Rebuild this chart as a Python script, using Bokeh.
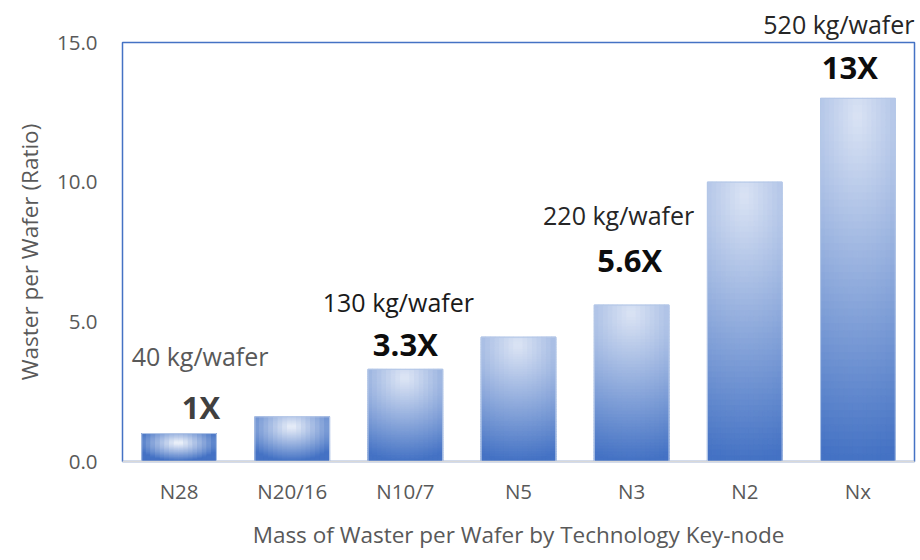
import math
from bokeh.plotting import figure
from bokeh.models import (FactorRange, Range1d, ColumnDataSource, Label, Title, FixedTicker,
                          NumeralTickFormatter)
from bokeh.embed import file_html
from bokeh.resources import INLINE

# ---- data ----
categories = ["N28", "N20/16", "N10/7", "N5", "N3", "N2", "Nx"]
ratios = [1.0, 1.6, 3.3, 4.45, 5.6, 10.0, 13.0]
y_ticks = [0, 5, 10, 15]

ann_categories = ["N28", "N10/7", "N3", "Nx"]
ann_mass = ["40 kg/wafer", "130 kg/wafer", "220 kg/wafer", "520 kg/wafer"]
ann_ratio = ["1X", "3.3X", "5.6X", "13X"]

# ---- annotation layout (text centre heights in axis units, pixel shifts) ----
mass_y = [3.76, 5.71, 8.84]          # the last mass label sits above the frame (a title)
ratio_y = [1.95, 4.22, 7.21, 14.12]
mass_dx = [21, -7, -13]
ratio_dx = [22, 0, -2, -8]
mass_col = ["#595959", "#1a1a1a", "#262626", "#262626"]
ratio_col = ["#404040", "#0d0d0d", "#0d0d0d", "#0d0d0d"]

FONT = "Open Sans"
GRAY = "#595959"

p = figure(width=916, height=556, x_range=FactorRange(*categories, range_padding=0),
           y_range=Range1d(0, 15), output_backend="svg", toolbar_location=None,
           min_border_left=122, min_border_right=2, min_border_top=42, min_border_bottom=95)

# gradient-filled bars built from small cells
HW = 0.33
NC, NR = 16, 50
dark = (68, 114, 196)
cells = dict(left=[], right=[], top=[], bottom=[], color=[])
for c, v in zip(categories, ratios):
    k = math.exp(-(v - 1) / 1.5)
    light = tuple(lt + (ls - lt) * k for lt, ls in zip((218, 227, 244), (244, 247, 252)))
    a = max(0.25, min(0.9, 1.0 / v ** 0.7))
    cy = 0.05 + 0.3 * math.exp(-(v - 1) / 1.2)
    for i in range(NC):
        x0 = -HW + 2 * HW * i / NC
        x1 = -HW + 2 * HW * (i + 1) / NC
        dx = ((x0 + x1) / 2) / HW
        for j in range(NR):
            t0, t1 = j / NR, (j + 1) / NR
            tm = (t0 + t1) / 2
            dy = abs(tm - cy) / (1 - cy)
            f = min(1.0, math.sqrt((a * dx) ** 2 + dy ** 2))
            col = tuple(int(round(l + (d - l) * f)) for l, d in zip(light, dark))
            cells["left"].append((c, x0))
            cells["right"].append((c, x1))
            cells["top"].append(v * (1 - t0))
            cells["bottom"].append(v * (1 - t1))
            cells["color"].append("#%02x%02x%02x" % col)
p.quad(left="left", right="right", top="top", bottom="bottom", source=ColumnDataSource(cells),
       fill_color="color", line_color="color", line_width=1.2)
p.vbar(x=categories, top=ratios, width=2 * HW, fill_color=None, line_color="#b4c7e7", line_width=1)

p.outline_line_color = "#4472c4"
p.outline_line_width = 1.5
p.xgrid.visible = False
p.ygrid.visible = False

p.yaxis.ticker = FixedTicker(ticks=y_ticks)
p.yaxis.formatter = NumeralTickFormatter(format="0.0")
p.yaxis.axis_line_color = None
p.xaxis.axis_line_color = "#d9d9d9"
p.xaxis.axis_line_width = 1.5
for ax in (p.xaxis, p.yaxis):
    ax.major_tick_line_color = None
    ax.minor_tick_line_color = None
    ax.major_tick_out = 0
    ax.major_tick_in = 0
    ax.minor_tick_out = 0
    ax.minor_tick_in = 0
    ax.major_label_text_font = FONT
    ax.major_label_text_font_size = "20.5px"
    ax.major_label_text_color = GRAY
    ax.axis_label_text_font = FONT
    ax.axis_label_text_font_size = "22.5px"
    ax.axis_label_text_font_style = "normal"
    ax.axis_label_text_color = GRAY
p.yaxis.major_label_standoff = 25
p.xaxis.major_label_standoff = 15
p.yaxis.axis_label = "Waster per Wafer (Ratio)"
p.xaxis.axis_label = "Mass of Waster per Wafer by Technology Key-node"
p.yaxis.axis_label_standoff = 9
p.xaxis.axis_label_standoff = 11

# category centres in the categorical scale's synthetic coordinates
def cat_x(cat):
    return categories.index(cat) + 0.5

for cat, txt, yy, dx, col in zip(ann_categories, ann_mass, mass_y, mass_dx, mass_col):
    p.add_layout(Label(x=cat_x(cat), y=yy, text=txt, x_offset=dx, text_align="center",
                       text_baseline="middle", text_font=FONT, text_font_size="25px", text_color=col))
for cat, txt, yy, dx, col in zip(ann_categories, ann_ratio, ratio_y, ratio_dx, ratio_col):
    p.add_layout(Label(x=cat_x(cat), y=yy, text=txt, x_offset=dx, text_align="center",
                       text_baseline="middle", text_font=FONT, text_font_size="31px",
                       text_font_style="bold", text_color=col))

# the top mass label lies outside the frame, so it goes in the panel above
p.add_layout(Title(text=ann_mass[-1], align="right", text_font=FONT, text_font_size="25px",
                   text_font_style="normal", text_color=mass_col[-1], standoff=3), "above")

open("out.html", "w").write(file_html(p, INLINE))
